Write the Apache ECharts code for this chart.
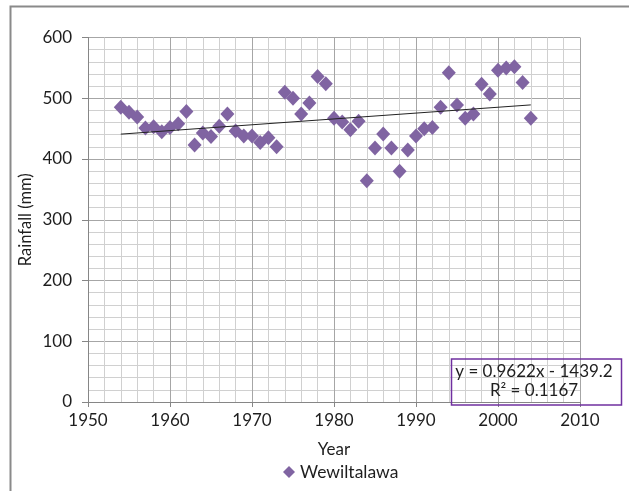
<!DOCTYPE html>
<html>
<head>
<meta charset="utf-8">
<script src="https://cdn.jsdelivr.net/npm/echarts@6/dist/echarts.min.js"></script>
<style>
html,body{margin:0;padding:0;background:#fff;}
#chart{width:629px;height:491px;}
</style>
</head>
<body>
<div id="chart"></div>
<script>
const seriesName = 'Wewiltalawa';
const years = [1954,1955,1956,1957,1958,1959,1960,1961,1962,1963,1964,1965,1966,1967,1968,1969,
  1970,1971,1972,1973,1974,1975,1976,1977,1978,1979,1980,1981,1982,1983,1984,1985,1986,1987,
  1988,1989,1990,1991,1992,1993,1994,1995,1996,1997,1998,1999,2000,2001,2002,2003,2004];
const rainfall = [485,477,469,451,453,445,452,458,478,423,443,437,454,474,446,438,
  438,427,435,420,510,500,474,492,536,524,467,461,448,462,364,418,441,418,
  380,415,438,450,452,485,542,489,467,474,523,507,546,550,552,526,467];
const slope = 0.9622;
const intercept = -1439.2;
const rSquared = 0.1167;
const xTicks = {min:1950, max:2010, interval:10};
const yTicks = {min:0, max:600, interval:100};

const points = years.map((y,i)=>[y, rainfall[i]]);
const x0 = years[0], x1 = years[years.length-1];
const trend = [[x0, slope*x0+intercept],[x1, slope*x1+intercept]];

const FONT = 'Lato';
const TXT = '#1e1e1e';
const chart = echarts.init(document.getElementById('chart'), null, {renderer:'canvas'});
chart.setOption({
  animation:false,
  backgroundColor:'#fff',
  textStyle:{fontFamily:FONT},
  grid:{left:88, right:49, top:37.5, bottom:89, containLabel:false},
  legend:{
    data:[{name:seriesName, icon:'diamond'}],
    left:278, top:458,
    itemWidth:12, itemHeight:12, itemGap:5,
    textStyle:{fontFamily:FONT, fontSize:17.5, color:TXT}
  },
  xAxis:{
    type:'value', min:xTicks.min, max:xTicks.max, interval:xTicks.interval,
    name:'Year', nameLocation:'middle', nameGap:39,
    nameTextStyle:{fontFamily:FONT, fontSize:17, color:TXT},
    axisLine:{show:true, onZero:false, lineStyle:{color:'#868686', width:1}},
    axisTick:{show:true, length:5, lineStyle:{color:'#868686'}},
    axisLabel:{fontFamily:FONT, fontSize:17, color:TXT, margin:10,
      formatter:function(v){return String(v);}},
    splitLine:{show:true, lineStyle:{color:'#a6a6a6', width:1}},
    minorTick:{show:false, splitNumber:5},
    minorSplitLine:{show:true, lineStyle:{color:'#d0d0d0', width:1}}
  },
  yAxis:{
    type:'value', min:yTicks.min, max:yTicks.max, interval:yTicks.interval,
    name:'Rainfall (mm)', nameLocation:'middle', nameGap:54, nameMoveOverlap:false,
    nameTextStyle:{fontFamily:FONT, fontSize:16.5, color:TXT},
    axisLine:{show:true, lineStyle:{color:'#868686', width:1}},
    axisTick:{show:true, length:6, lineStyle:{color:'#868686'}},
    axisLabel:{fontFamily:FONT, fontSize:17, color:TXT, margin:16,
      formatter:function(v){return String(v);}},
    splitLine:{show:true, lineStyle:{color:'#a6a6a6', width:1}},
    minorTick:{show:false, splitNumber:5},
    minorSplitLine:{show:true, lineStyle:{color:'#d0d0d0', width:1}}
  },
  series:[
    {
      name:seriesName, type:'scatter', data:points,
      symbol:'diamond', symbolSize:[14,15],
      itemStyle:{color:'#8064A2', opacity:1}, z:3
    },
    {
      name:'trend', type:'line', data:trend, showSymbol:false, symbol:'none',
      lineStyle:{color:'#222', width:1}, z:4, silent:true
    }
  ],
  graphic:[
    {type:'rect', left:8, top:4, shape:{width:640, height:500},
     style:{fill:'none', stroke:'#8a8a8a', lineWidth:2}, z:-1, silent:true},
    {type:'rect', left:449, top:356.5, shape:{width:170, height:46},
     style:{fill:'none', stroke:'#7030A0', lineWidth:1.5}, z:10},
    {type:'text',
     style:{text:'y = ' + slope.toFixed(4) + 'x - ' + Math.abs(intercept).toFixed(1),
       fontFamily:FONT, fontSize:17, fill:TXT, x:534, y:372, align:'center', verticalAlign:'middle'},
     z:11},
    {type:'text',
     style:{text:'R\u00b2 = ' + rSquared.toFixed(4),
       fontFamily:FONT, fontSize:17, fill:TXT, x:534, y:391, align:'center', verticalAlign:'middle'},
     z:11}
  ]
});
</script>
</body>
</html>
